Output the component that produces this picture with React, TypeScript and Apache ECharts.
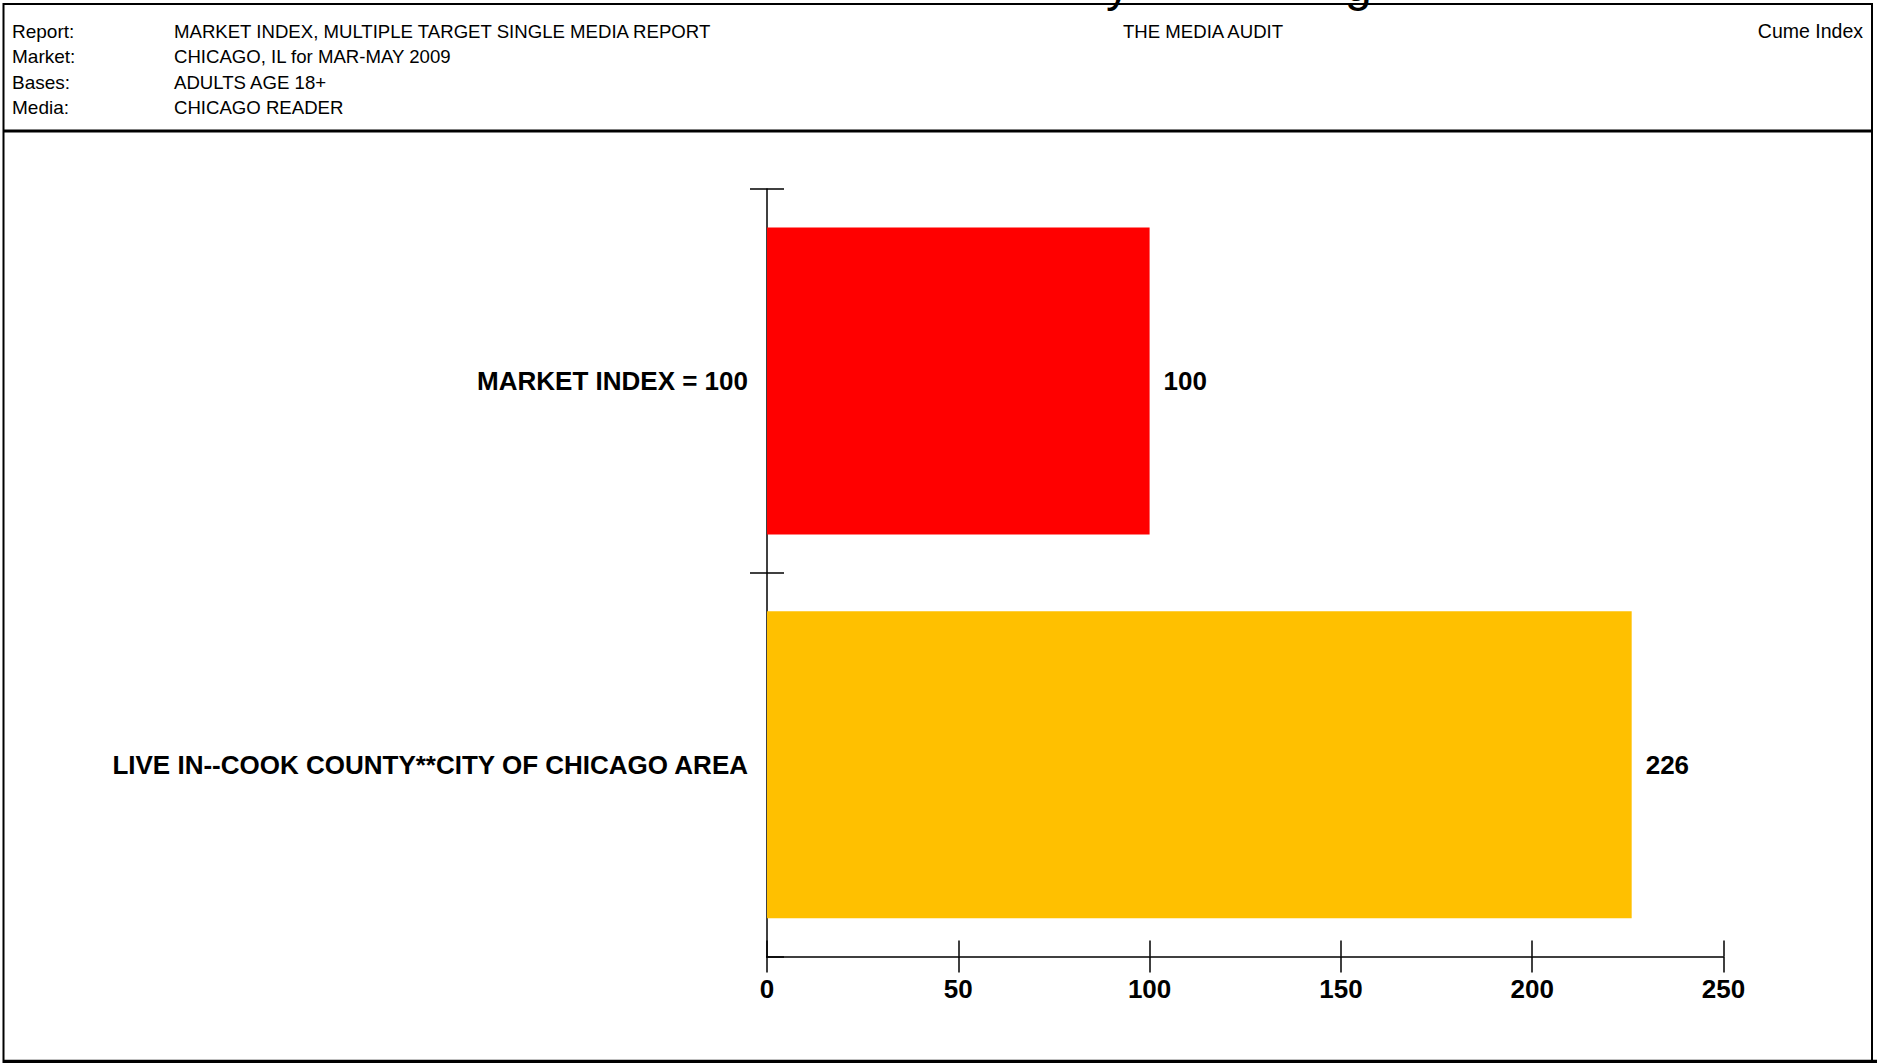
import React, { useEffect, useRef } from "react";
import * as echarts from "echarts";

// Report header fields
const headerLabels = ["Report:", "Market:", "Bases:", "Media:"];
const headerValues = [
  "MARKET INDEX, MULTIPLE TARGET SINGLE MEDIA REPORT",
  "CHICAGO, IL for MAR-MAY 2009",
  "ADULTS AGE 18+",
  "CHICAGO READER",
];
const reportSource = "THE MEDIA AUDIT";
const reportMeasure = "Cume Index";

// Chart data
const categories = ["MARKET INDEX = 100", "LIVE IN--COOK COUNTY**CITY OF CHICAGO AREA"];
const indexValues = [100, 226];
const barColors = ["#FF0000", "#FFC000"];
const axisMin = 0;
const axisMax = 250;
const axisStep = 50;

const FONT = "'Liberation Sans', Arial, sans-serif";

export default function App() {
  const ref = useRef<HTMLDivElement>(null);

  useEffect(() => {
    document.body.style.margin = "0";
    if (!ref.current) return;
    const chart = echarts.init(ref.current, null, { renderer: "svg" });

    const headerRows = [31, 56, 82, 107];
    const headerText: any[] = [];
    headerLabels.forEach((t, i) => {
      headerText.push({
        type: "text",
        x: 12,
        y: headerRows[i],
        style: { text: t, font: `19px ${FONT}`, fill: "#000", verticalAlign: "middle", align: "left" },
      });
      headerText.push({
        type: "text",
        x: 174,
        y: headerRows[i],
        style: { text: headerValues[i], font: `18.6px ${FONT}`, fill: "#000", verticalAlign: "middle", align: "left" },
      });
    });

    const option: any = {
      animation: false,
      backgroundColor: "#fff",
      textStyle: { fontFamily: FONT },
      grid: {
        left: 767,
        top: 189,
        right: 153.5,
        bottom: 106.5,
        containLabel: false,
        outerBoundsMode: "none",
      },
      xAxis: [
        {
          type: "value",
          min: axisMin,
          max: axisMax,
          interval: axisStep,
          position: "bottom",
          axisLine: { show: true, lineStyle: { color: "#000", width: 1.5 } },
          axisTick: { show: true, length: 16, inside: false, lineStyle: { color: "#000", width: 1.5 } },
          axisLabel: {
            show: true,
            margin: 19,
            fontSize: 26,
            fontWeight: "bold",
            color: "#000",
            fontFamily: FONT,
          },
          splitLine: { show: false },
        },
        {
          type: "value",
          min: axisMin,
          max: axisMax,
          interval: axisStep,
          position: "bottom",
          axisLine: { show: false },
          axisTick: { show: true, length: 16, inside: true, lineStyle: { color: "#000", width: 1.5 } },
          axisLabel: { show: false },
          splitLine: { show: false },
        },
      ],
      yAxis: [
        {
          type: "category",
          data: categories,
          inverse: true,
          position: "left",
          axisLine: { show: true, lineStyle: { color: "#000", width: 1.5 } },
          axisTick: { show: true, length: 17, inside: false, lineStyle: { color: "#000", width: 1.5 } },
          axisLabel: {
            show: true,
            margin: 19,
            fontSize: 26,
            fontWeight: "bold",
            color: "#000",
            fontFamily: FONT,
          },
          splitLine: { show: false },
        },
        {
          type: "category",
          data: categories,
          inverse: true,
          position: "left",
          axisLine: { show: false },
          axisTick: { show: true, length: 17, inside: true, lineStyle: { color: "#000", width: 1.5 } },
          axisLabel: { show: false },
          splitLine: { show: false },
        },
      ],
      series: [
        {
          type: "bar",
          xAxisIndex: 0,
          yAxisIndex: 0,
          barCategoryGap: "20%",
          data: indexValues.map((v, i) => ({ value: v, itemStyle: { color: barColors[i] } })),
          label: {
            show: true,
            position: "right",
            distance: 14,
            fontSize: 26,
            fontWeight: "bold",
            color: "#000",
            fontFamily: FONT,
          },
          z: 1,
        },
      ],
      graphic: [
        // page frame
        {
          type: "rect",
          shape: { x: 3.5, y: 4, width: 1868.5, height: 1080 },
          style: { fill: "none", stroke: "#000", lineWidth: 2 },
          silent: true,
        },
        // header separator
        {
          type: "line",
          shape: { x1: 3, y1: 131, x2: 1872, y2: 131 },
          style: { stroke: "#000", lineWidth: 3 },
          silent: true,
        },
        // bottom rule
        {
          type: "line",
          shape: { x1: 3, y1: 1061.5, x2: 1877, y2: 1061.5 },
          style: { stroke: "#000", lineWidth: 3.5 },
          silent: true,
        },
        // the outer boundary tick of the category axis is left blank at the origin
        {
          type: "rect",
          shape: { x: 744, y: 954, width: 22, height: 6 },
          style: { fill: "#fff" },
          z: 100,
          silent: true,
        },
        // descenders of the page title above the frame
        {
          type: "text",
          x: 1106,
          y: -16,
          style: { text: "y", font: `48px ${FONT}`, fill: "#000", verticalAlign: "middle", align: "left" },
          silent: true,
        },
        {
          type: "text",
          x: 1345,
          y: -16,
          style: { text: "g", font: `48px ${FONT}`, fill: "#000", verticalAlign: "middle", align: "left" },
          silent: true,
        },
        ...headerText,
        {
          type: "text",
          x: 1123,
          y: 31,
          style: { text: reportSource, font: `18.6px ${FONT}`, fill: "#000", verticalAlign: "middle", align: "left" },
        },
        {
          type: "text",
          x: 1863,
          y: 31,
          style: { text: reportMeasure, font: `19.5px ${FONT}`, fill: "#000", verticalAlign: "middle", align: "right" },
        },
      ],
    };

    chart.setOption(option);
    return () => chart.dispose();
  }, []);

  return <div ref={ref} style={{ width: 1877, height: 1063 }} />;
}
